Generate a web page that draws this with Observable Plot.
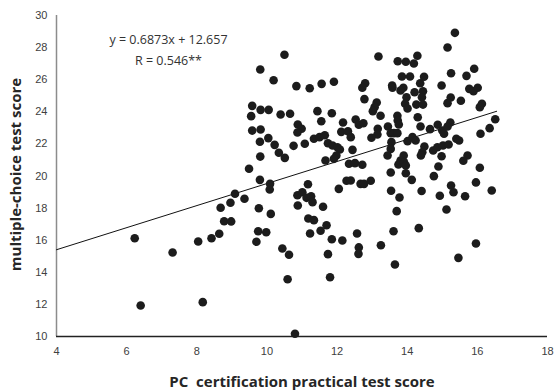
<!DOCTYPE html>
<html>
<head>
<meta charset="utf-8">
<script src="https://cdn.jsdelivr.net/npm/d3@7"></script>
<script src="https://cdn.jsdelivr.net/npm/@observablehq/plot@0.6"></script>
<style>
  html, body { margin: 0; padding: 0; background: #fff; }
  #chart svg { display: block; }
</style>
</head>
<body>
<div id="chart"></div>
<script>
// PC certification practical test score (x) for each student
const practicalScores = [
  15.36, 15.15, 10.50, 13.18, 13.73, 13.96, 14.29, 14.19, 15.91, 15.25,
  15.69, 13.85, 14.08, 14.48, 14.37, 10.19, 10.84, 11.22, 11.56, 11.91,
  12.80, 12.72, 13.57, 13.58, 13.89, 13.81, 14.21, 14.45, 14.98, 15.77,
  15.89, 16.01, 12.78, 13.98, 14.42, 15.24, 15.15, 15.53, 13.13, 13.07,
  13.94, 14.01, 14.26, 14.45, 16.13, 16.07, 10.05, 10.39, 10.66, 11.44,
  11.85, 13.02, 13.24, 13.72, 13.73, 13.76, 14.30, 16.51, 11.55, 10.88,
  10.99, 10.87, 12.17, 12.53, 12.62, 12.75, 13.45, 14.38, 14.65, 14.87,
  15.00, 15.05, 15.23, 15.15, 16.35, 16.09, 12.12, 12.31, 12.39, 13.16,
  13.15, 12.98, 13.53, 13.62, 13.72, 11.34, 11.50, 11.65, 10.04, 10.22,
  10.76, 11.08, 11.74, 11.87, 12.01, 12.08, 12.44, 13.55, 13.53, 14.01,
  14.15, 14.24, 14.49, 14.43, 14.39, 14.74, 14.86, 15.02, 15.18, 15.40,
  15.48, 10.34, 10.51, 13.44, 13.90, 13.81, 13.75, 13.91, 13.96, 14.98,
  15.72, 15.60, 11.98, 11.91, 11.67, 12.34, 12.51, 12.72, 14.89, 16.07,
  13.53, 13.96, 14.76, 14.13, 11.17, 12.27, 12.39, 12.67, 12.77, 12.96,
  15.96, 9.81, 9.58, 9.55, 9.82, 9.58, 9.82, 9.80, 9.81, 9.49,
  9.80, 10.09, 10.08, 9.09, 9.36, 8.96, 8.68, 8.78, 8.98, 9.77,
  10.11, 9.75, 9.98, 9.70, 8.04, 8.42, 8.64, 7.31, 6.23, 6.40,
  8.17, 10.44, 10.63, 10.59, 10.80, 10.87, 11.01, 11.13, 11.26, 11.30,
  10.88, 11.60, 11.18, 11.34, 11.70, 11.23, 11.53, 11.85, 12.15, 12.57,
  12.62, 12.61, 13.25, 13.61, 13.70, 13.78, 13.54, 14.41, 14.33, 14.93,
  15.12, 15.32, 15.25, 15.65, 16.41, 15.96, 15.46, 13.65, 11.74, 11.80,
  12.05
];
// multiple-choice test score (y) for each student
const choiceScores = [
  28.92, 28.01, 27.55, 27.45, 27.15, 27.12, 27.49, 27.01, 26.68, 26.40,
  26.24, 26.20, 26.20, 26.18, 25.78, 25.97, 25.60, 25.47, 25.74, 25.87,
  25.78, 25.50, 25.64, 25.50, 25.50, 25.33, 25.22, 25.28, 25.64, 25.43,
  25.28, 25.50, 24.79, 24.91, 24.91, 24.89, 24.54, 24.69, 24.58, 24.29,
  24.50, 24.21, 24.45, 24.45, 24.50, 24.29, 24.12, 23.83, 23.88, 24.04,
  23.91, 24.04, 23.75, 23.75, 23.46, 23.21, 23.66, 23.54, 23.41, 23.21,
  22.94, 22.71, 23.33, 23.52, 23.19, 23.29, 23.08, 23.08, 22.92, 23.19,
  22.83, 22.63, 23.33, 23.08, 22.98, 22.63, 22.75, 22.79, 22.42, 22.94,
  22.59, 22.38, 22.67, 22.67, 22.67, 22.32, 22.42, 22.54, 22.36, 21.94,
  21.88, 22.01, 22.04, 21.90, 21.79, 21.65, 21.63, 22.11, 21.69, 22.17,
  22.42, 22.21, 21.84, 21.48, 21.28, 21.59, 21.79, 21.90, 21.96, 22.32,
  22.21, 21.45, 21.13, 21.28, 21.28, 20.97, 20.72, 20.86, 20.65, 21.23,
  21.28, 20.95, 21.28, 21.07, 20.97, 20.76, 20.80, 20.70, 20.59, 20.51,
  20.22, 20.17, 19.99, 19.76, 19.49, 19.70, 19.72, 19.51, 19.51, 19.70,
  19.60, 26.64, 24.37, 23.73, 24.12, 22.83, 22.90, 22.13, 21.21, 20.45,
  19.76, 19.51, 19.16, 18.89, 18.58, 18.33, 18.02, 17.18, 17.17, 17.99,
  17.64, 16.56, 16.50, 15.90, 15.92, 16.12, 16.40, 15.23, 16.12, 11.93,
  12.14, 15.48, 15.09, 13.57, 10.17, 18.80, 18.99, 18.64, 18.74, 18.37,
  18.16, 18.08, 17.35, 17.25, 16.93, 16.42, 16.59, 16.06, 15.98, 16.42,
  15.55, 15.15, 15.69, 16.56, 17.81, 18.66, 19.08, 19.07, 16.75, 18.77,
  17.91, 18.99, 19.41, 18.74, 19.10, 15.79, 14.90, 14.49, 15.13, 13.69,
  19.20
];
const xTicks = [4, 6, 8, 10, 12, 14, 16, 18];
const yTicks = [10, 12, 14, 16, 18, 20, 22, 24, 26, 28, 30];
// regression reported on the chart
const fitSlope = 0.6873;
const fitIntercept = 12.657;
const fitRange = [4, 16.55];
const equationText = "y = 0.6873x + 12.657";
const rText = "R = 0.546**";
const xLabel = "PC  certification practical test score";
const yLabel = "multiple-choice test score";

const points = practicalScores.map((x, i) => ({x, y: choiceScores[i]}));
const fitLine = fitRange.map(x => ({x, y: fitSlope * x + fitIntercept}));

const chart = Plot.plot({
  width: 556,
  height: 392,
  marginLeft: 56,
  marginRight: 9,
  marginTop: 15,
  marginBottom: 56,
  style: {fontFamily: "'Liberation Sans', Arial, sans-serif", background: "#fff", color: "#404040"},
  x: {domain: [4, 18]},
  y: {domain: [10, 30]},
  marks: [
    Plot.axisX({ticks: xTicks, tickSize: 0, tickPadding: 11, fontSize: 11, color: "#404040", label: null}),
    Plot.axisY({ticks: yTicks, tickSize: 0, tickPadding: 9, fontSize: 11, color: "#404040", label: null}),
    Plot.ruleX([4], {stroke: "#8c8c8c", strokeWidth: 1.5}),
    Plot.ruleY([10], {stroke: "#222", strokeWidth: 1.5}),
    Plot.line(fitLine, {x: "x", y: "y", stroke: "#111", strokeWidth: 1}),
    Plot.dot(points, {x: "x", y: "y", r: 4.3, fill: "#1c1c1c", stroke: "none"}),
    Plot.text([equationText], {frameAnchor: "top-left", dx: 112, dy: 24.5, text: d => d, textAnchor: "middle", lineAnchor: "middle", fontSize: 12.5, fill: "#333", fontFamily: "'Open Sans', sans-serif"}),
    Plot.text([rText], {frameAnchor: "top-left", dx: 112, dy: 45, text: d => d, textAnchor: "middle", lineAnchor: "middle", fontSize: 12.5, fill: "#333", fontFamily: "'Open Sans', sans-serif"}),
    Plot.text([xLabel], {frameAnchor: "bottom", dy: 46, text: d => d, textAnchor: "middle", lineAnchor: "middle", fontSize: 15, fontWeight: "bold", fill: "#262626", fontFamily: "'Open Sans', sans-serif"}),
    Plot.text([yLabel], {frameAnchor: "left", dx: -40, dy: -1.5, rotate: -90, text: d => d, textAnchor: "middle", lineAnchor: "middle", fontSize: 15, fontWeight: "bold", fill: "#262626", fontFamily: "'Open Sans', sans-serif"})
  ]
});
document.getElementById("chart").append(chart);
</script>
</body>
</html>
